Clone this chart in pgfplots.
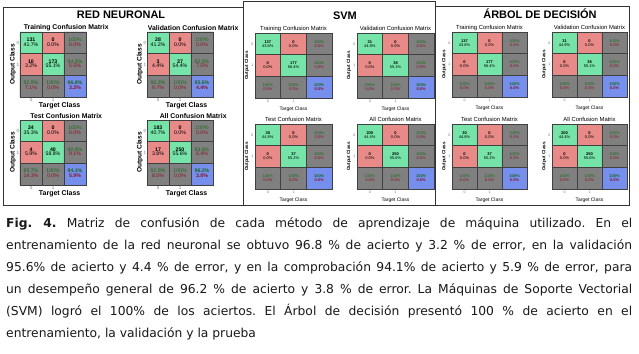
\documentclass[border=0pt]{standalone}
\usepackage{pgfplots}
\pgfplotsset{compat=1.18}
\usepackage{pgfplotstable}
\usepackage{fontspec}
\setmainfont{DejaVu Sans}
\newfontfamily\chartfont{Liberation Sans}
\definecolor{tg}{RGB}{25,105,25}
\definecolor{tr}{RGB}{135,20,35}
\newcommand\Nb[1]{\bfseries #1}
\newcommand\Gt[1]{\color{tg}#1}
\newcommand\Rt[1]{\color{tr}#1}
\newcommand\Gb[1]{\color{tg}\bfseries #1}
\newcommand\Rb[1]{\color{tr}\bfseries #1}

% x y c(0 green,1 red,2 gray,3 blue) t(top line) b(bottom line); y=2 is row "0"
\pgfplotstableread{
x y c t b
0 0 2 \Gt{92.9\%} \Rt{7.1\%}
1 0 2 \Gt{100\%} \Rt{0.0\%}
2 0 3 \Gb{96.8\%} \Rb{3.2\%}
0 1 1 \Nb{10} 3.2\%
1 1 0 \Nb{173} 55.1\%
2 1 2 \Gt{94.5\%} \Rt{5.5\%}
0 2 0 \Nb{131} 41.7\%
1 2 1 \Nb{0} 0.0\%
2 2 2 \Gt{100\%} \Rt{0.0\%}
}\nnTrain
\pgfplotstableread{
x y c t b
0 0 2 \Gt{90.3\%} \Rt{9.7\%}
1 0 2 \Gt{100\%} \Rt{0.0\%}
2 0 3 \Gb{95.6\%} \Rb{4.4\%}
0 1 1 \Nb{3} 4.4\%
1 1 0 \Nb{37} 54.4\%
2 1 2 \Gt{92.5\%} \Rt{7.5\%}
0 2 0 \Nb{28} 41.2\%
1 2 1 \Nb{0} 0.0\%
2 2 2 \Gt{100\%} \Rt{0.0\%}
}\nnVal
\pgfplotstableread{
x y c t b
0 0 2 \Gt{85.7\%} \Rt{14.3\%}
1 0 2 \Gt{100\%} \Rt{0.0\%}
2 0 3 \Gb{94.1\%} \Rb{5.9\%}
0 1 1 \Nb{4} 5.9\%
1 1 0 \Nb{40} 58.8\%
2 1 2 \Gt{90.9\%} \Rt{9.1\%}
0 2 0 \Nb{24} 35.3\%
1 2 1 \Nb{0} 0.0\%
2 2 2 \Gt{100\%} \Rt{0.0\%}
}\nnTest
\pgfplotstableread{
x y c t b
0 0 2 \Gt{91.5\%} \Rt{8.5\%}
1 0 2 \Gt{100\%} \Rt{0.0\%}
2 0 3 \Gb{96.2\%} \Rb{3.8\%}
0 1 1 \Nb{17} 3.8\%
1 1 0 \Nb{250} 55.6\%
2 1 2 \Gt{93.6\%} \Rt{6.4\%}
0 2 0 \Nb{183} 40.7\%
1 2 1 \Nb{0} 0.0\%
2 2 2 \Gt{100\%} \Rt{0.0\%}
}\nnAll
\pgfplotstableread{
x y c t b
0 0 2 \Gt{100\%} \Rt{0.0\%}
1 0 2 \Gt{100\%} \Rt{0.0\%}
2 0 3 \Gb{100\%} \Rb{0.0\%}
0 1 1 \Nb{0} 0.0\%
1 1 0 \Nb{177} 56.4\%
2 1 2 \Gt{100\%} \Rt{0.0\%}
0 2 0 \Nb{137} 43.6\%
1 2 1 \Nb{0} 0.0\%
2 2 2 \Gt{100\%} \Rt{0.0\%}
}\svTrain
\pgfplotstableread{
x y c t b
0 0 2 \Gt{100\%} \Rt{0.0\%}
1 0 2 \Gt{100\%} \Rt{0.0\%}
2 0 3 \Gb{100\%} \Rb{0.0\%}
0 1 1 \Nb{0} 0.0\%
1 1 0 \Nb{38} 55.1\%
2 1 2 \Gt{100\%} \Rt{0.0\%}
0 2 0 \Nb{31} 44.9\%
1 2 1 \Nb{0} 0.0\%
2 2 2 \Gt{100\%} \Rt{0.0\%}
}\svVal
\pgfplotstableread{
x y c t b
0 0 2 \Gt{100\%} \Rt{0.0\%}
1 0 2 \Gt{100\%} \Rt{0.0\%}
2 0 3 \Gb{100\%} \Rb{0.0\%}
0 1 1 \Nb{0} 0.0\%
1 1 0 \Nb{37} 55.2\%
2 1 2 \Gt{100\%} \Rt{0.0\%}
0 2 0 \Nb{30} 44.8\%
1 2 1 \Nb{0} 0.0\%
2 2 2 \Gt{100\%} \Rt{0.0\%}
}\svTest
\pgfplotstableread{
x y c t b
0 0 2 \Gt{100\%} \Rt{0.0\%}
1 0 2 \Gt{100\%} \Rt{0.0\%}
2 0 3 \Gb{100\%} \Rb{0.0\%}
0 1 1 \Nb{0} 0.0\%
1 1 0 \Nb{250} 55.6\%
2 1 2 \Gt{100\%} \Rt{0.0\%}
0 2 0 \Nb{200} 44.4\%
1 2 1 \Nb{0} 0.0\%
2 2 2 \Gt{100\%} \Rt{0.0\%}
}\svAll

\pgfplotsset{
  cmbase/.style={
    scale only axis, height=65bp, anchor=north west,
    xmin=-0.5, xmax=2.5, ymin=-0.5, ymax=2.5,
    xtick={0,1}, xticklabels={0,1}, ytick={1,2}, yticklabels={1,0},
    major tick length=0pt, minor tick length=0pt,
    minor xtick={0.5,1.5}, minor ytick={0.5,1.5},
    xminorgrids, yminorgrids,
    minor grid style={black!75, line width=0.6bp},
    axis line style={black!75, line width=0.6bp},
    axis on top,
    every axis title shift=0pt,
    colormap={cmc}{rgb255=(118,228,168) rgb255=(232,138,136) rgb255=(128,128,128) rgb255=(118,142,236)},
    point meta min=0, point meta max=3,
    tick label style={text=black!55},
    xlabel={Target Class}, ylabel={Output Class},
  },
  nn/.style={cmbase, width=66bp,
    title style={font=\chartfont\bfseries\fontsize{6.9}{7}\selectfont, at={(axis description cs:0.70,1.062)}, anchor=center, inner sep=0pt},
    xlabel style={font=\chartfont\bfseries\fontsize{7}{7}\selectfont, at={(axis description cs:0.6,-0.14)}, anchor=center, inner sep=0pt},
    ylabel style={font=\chartfont\bfseries\fontsize{6.6}{7}\selectfont, at={(axis description cs:-0.106,0.5)}, anchor=center, inner sep=0pt},
    tick label style={font=\chartfont\fontsize{4.5}{5}\selectfont},
    xticklabel style={inner sep=0.8bp}, yticklabel style={inner sep=0.8bp},
  },
  sv/.style={cmbase, width=77bp,
    title style={font=\chartfont\fontsize{5.9}{6}\selectfont, at={(axis description cs:0.5,1.069)}, anchor=center, inner sep=0pt},
    xlabel style={font=\chartfont\fontsize{5}{5}\selectfont, at={(axis description cs:0.5,-0.165)}, anchor=center, inner sep=0pt},
    ylabel style={font=\chartfont\bfseries\fontsize{4.6}{5}\selectfont, at={(axis description cs:-0.104,0.5)}, anchor=center, inner sep=0pt},
    tick label style={font=\chartfont\fontsize{3.6}{4}\selectfont},
    xticklabel style={inner sep=1.5bp}, yticklabel style={inner sep=1.5bp},
  },
  ar/.style={sv, width=75bp},
}

% #1 style #2 table #3 title #4 x #5 y #6 cell font size #7 top shift #8 bottom shift
\newcommand{\cm}[8]{%
\begin{axis}[#1, at={(#4bp,-#5bp)}, title={#3}]
\addplot[matrix plot*, mesh/cols=3, point meta=explicit] table[x=x,y=y,meta=c]{#2};
\addplot[draw=none, mark=none, point meta=explicit symbolic, nodes near coords, nodes near coords align={center},
  every node near coord/.append style={font=\chartfont\fontsize{#6}{#6}\selectfont, yshift=#7bp, inner sep=0pt, text=black}]
  table[x=x,y=y,meta=t]{#2};
\addplot[draw=none, mark=none, point meta=explicit symbolic, nodes near coords, nodes near coords align={center},
  every node near coord/.append style={font=\chartfont\fontsize{#6}{#6}\selectfont, yshift=#8bp, inner sep=0pt, text=black}]
  table[x=x,y=y,meta=b]{#2};
\end{axis}}

\begin{document}
\frenchspacing
\begin{tikzpicture}
\fill[white] (0,0) rectangle (639bp,-354bp);
\path[use as bounding box] (0,0) rectangle (639bp,-354bp);

% panel frames
\draw[black!80, line width=1bp] (3bp,-7bp) rectangle (243bp,-205bp);
\draw[black!80, line width=1bp] (243bp,-1bp) rectangle (435bp,-205bp);
\draw[black!80, line width=1bp] (435bp,-6bp) rectangle (629bp,-205bp);

\node[anchor=base, inner sep=0pt, font=\chartfont\bfseries\fontsize{11}{11}\selectfont] at (121bp,-18.3bp) {RED NEURONAL};
\node[anchor=base, inner sep=0pt, font=\chartfont\bfseries\fontsize{11}{11}\selectfont] at (345bp,-19bp) {SVM};
\node[anchor=base, inner sep=0pt, font=\chartfont\bfseries\fontsize{11}{11}\selectfont] at (540bp,-18.3bp) {ÁRBOL DE DECISIÓN};

\cm{nn}{\nnTrain}{Training Confusion Matrix}{20}{32}{5.2}{3}{-1.4}
\cm{nn}{\nnVal}{Validation Confusion Matrix}{147}{32}{5.2}{3}{-1.4}
\cm{nn}{\nnTest}{Test Confusion Matrix}{20}{120}{5.2}{3}{-1.4}
\cm{nn}{\nnAll}{All Confusion Matrix}{147}{120}{5.2}{3}{-1.4}

\cm{sv}{\svTrain}{Training Confusion Matrix}{255}{33}{4}{2.1}{-1.9}
\cm{sv}{\svVal}{Validation Confusion Matrix}{357}{33}{4}{2.1}{-1.9}
\cm{sv}{\svTest}{Test Confusion Matrix}{255}{124}{4}{2.1}{-1.9}
\cm{sv}{\svAll}{All Confusion Matrix}{357}{124}{4}{2.1}{-1.9}

\cm{ar}{\svTrain}{Training Confusion Matrix}{452}{32}{4}{2.1}{-1.9}
\cm{ar}{\svVal}{Validation Confusion Matrix}{552}{32}{4}{2.1}{-1.9}
\cm{ar}{\svTest}{Test Confusion Matrix}{452}{124}{4}{2.1}{-1.9}
\cm{ar}{\svAll}{All Confusion Matrix}{552}{124}{4}{2.1}{-1.9}

% caption
\begin{scope}[every node/.style={anchor=base west, inner sep=0pt, font=\fontsize{12.35}{14}\selectfont, text=black!90}]
\node at (6bp,-227bp) {\makebox[626bp][s]{\textbf{Fig. 4.} Matriz de confusión de cada método de aprendizaje de máquina utilizado. En el}};
\node at (6bp,-249bp) {\makebox[626bp][s]{entrenamiento de la red neuronal se obtuvo 96.8 \% de acierto y 3.2 \% de error, en la validación}};
\node at (6bp,-271bp) {\makebox[626bp][s]{95.6\% de acierto y 4.4 \% de error, y en la comprobación 94.1\% de acierto y 5.9 \% de error, para}};
\node at (6bp,-293bp) {\makebox[626bp][s]{un desempeño general de 96.2 \% de acierto y 3.8 \% de error. La Máquinas de Soporte Vectorial}};
\node at (6bp,-315bp) {\makebox[626bp][s]{(SVM) logró el 100\% de los aciertos. El Árbol de decisión presentó 100 \% de acierto en el}};
\node at (6bp,-337bp) {entrenamiento, la validación y la prueba};
\end{scope}
\end{tikzpicture}
\end{document}
